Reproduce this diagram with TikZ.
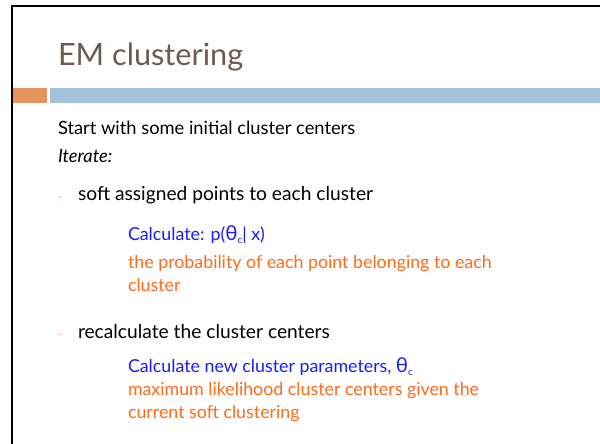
\documentclass[tikz,border=0pt]{standalone}
\usepackage{fontspec}
\setmainfont{Lato}
\definecolor{titlebrown}{HTML}{6E5A50}
\definecolor{barorange}{HTML}{E6945A}
\definecolor{barblue}{HTML}{A4C2DA}
\definecolor{textblue}{HTML}{1A1AFF}
\definecolor{textorange}{HTML}{FF6A1A}
% enlarged theta with a lowered small c, as in the parameter symbol
\newcommand\thetac{{\fontsize{20.5}{20}\selectfont θ}\raisebox{-0.35ex}{\fontsize{10}{10}\selectfont c}}
\tikzset{
  line/.style={anchor=base west, inner sep=0pt, outer sep=0pt},
  titletext/.style={line, text=titlebrown, font=\fontsize{30.7}{36}\selectfont},
  bodytext/.style={line, text=black, font=\fontsize{18.3}{22}\selectfont},
  leveltwo/.style={line, text=black, font=\fontsize{19.2}{23}\selectfont},
  calcblue/.style={line, text=textblue, font=\fontsize{17.8}{20}\selectfont},
  noteorange/.style={line, text=textorange, font=\fontsize{17.8}{20}\selectfont},
  dashbullet/.style={line, text=textorange, font=\fontsize{9}{10}\selectfont}
}
\begin{document}
\begin{tikzpicture}[x=1pt, y=-1pt]
\useasboundingbox (0,0) rectangle (600,444);
% slide frame: top and left edges only
\draw[line width=2pt] (12,444) -- (12,6) -- (600,6);
% title
\node[titletext] (title) at (58,66) {EM clustering};
% accent bar under the title
\fill[barorange] (13,88) rectangle (47,102.5);
\fill[barblue] (50,88) rectangle (600,102.5);
% body
\node[bodytext] (start) at (58,134) {Start with some initial cluster centers};
\node[bodytext, font=\fontsize{18.3}{22}\selectfont\itshape] (iter) at (58,162) {Iterate:};
\node[dashbullet] (b1) at (58,199) {-};
\node[leveltwo] (soft) at (78,200) {soft assigned points to each cluster};
\node[calcblue] (calc1) at (128,240) {Calculate: p(\thetac| x)};
\node[noteorange] (prob1) at (128,268) {the probability of each point belonging to each};
\node[noteorange] (prob2) at (128,291) {cluster};
\node[dashbullet] (b2) at (58,337) {-};
\node[leveltwo] (recalc) at (78,338) {recalculate the cluster centers};
\node[calcblue] (calc2) at (128,372) {Calculate new cluster parameters, \thetac};
\node[noteorange] (ml1) at (128,395) {maximum likelihood cluster centers given the};
\node[noteorange] (ml2) at (128,418) {current soft clustering};
\end{tikzpicture}
\end{document}
